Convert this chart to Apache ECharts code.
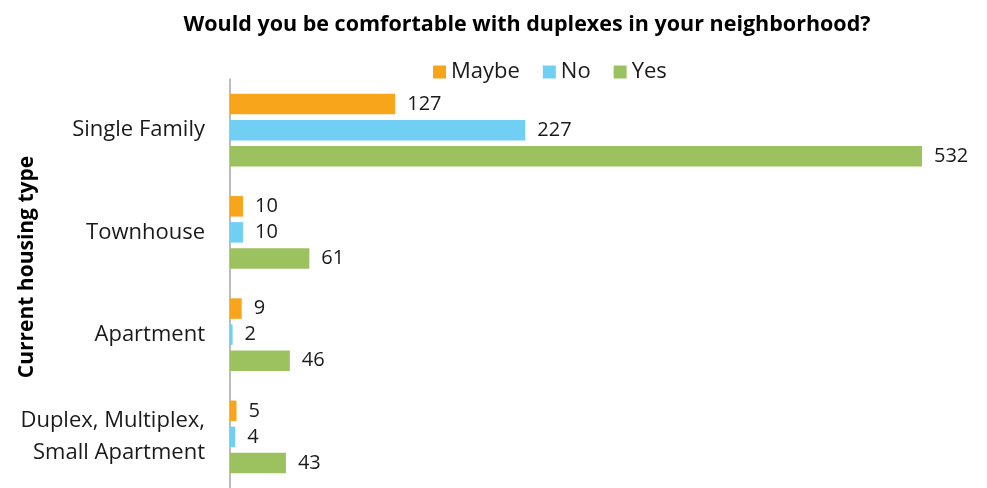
<!DOCTYPE html>
<html>
<head>
<meta charset="utf-8">
<script src="https://cdn.jsdelivr.net/npm/echarts@6/dist/echarts.min.js"></script>
<style>html,body{margin:0;padding:0;background:#fff}#c{width:987px;height:488px}</style>
</head>
<body>
<div id="c"></div>
<script>
const categories = ['Single Family', 'Townhouse', 'Apartment', 'Duplex, Multiplex,\nSmall Apartment'];
const maybeValues = [127, 10, 9, 5];
const noValues = [227, 10, 2, 4];
const yesValues = [532, 61, 46, 43];
const seriesNames = ['Maybe', 'No', 'Yes'];
const colors = ['#F8A51C', '#72CFF4', '#9BC25F'];

const FONT = 'Open Sans';
const chart = echarts.init(document.getElementById('c'));
const mk = (name, data, color) => ({
  name, type: 'bar', data,
  barWidth: 20.5, barGap: '27%',
  itemStyle: { color },
  label: { show: true, position: 'right', distance: 12, color: '#1a1a1a', fontSize: 20, fontFamily: FONT },
  animation: false
});
chart.setOption({
  animation: false,
  textStyle: { fontFamily: FONT },
  title: {
    text: 'Would you be comfortable with duplexes in your neighborhood?',
    left: 522, top: 9, textAlign: 'center',
    textStyle: { fontSize: 21.5, fontWeight: 'bold', color: '#000', fontFamily: FONT }
  },
  legend: {
    data: seriesNames, top: 56, left: 428,
    itemWidth: 13, itemHeight: 13, itemGap: 23, icon: 'rect',
    textStyle: { fontSize: 22, color: '#1a1a1a', fontFamily: FONT }
  },
  graphic: [{
    type: 'text', x: 27, y: 267, rotation: Math.PI / 2,
    style: { text: 'Current housing type', fontSize: 21, fontWeight: 'bold', fill: '#000', fontFamily: FONT, align: 'center', verticalAlign: 'middle' }
  }],
  grid: { left: 230, right: 65, top: 79, height: 417, containLabel: false },
  xAxis: { type: 'value', min: 0, max: 532, show: false },
  yAxis: {
    type: 'category', data: categories, inverse: true,
    axisLine: { show: true, lineStyle: { color: '#A6A6A6', width: 1.5 } },
    axisTick: { show: false },
    axisLabel: { fontSize: 22, color: '#1a1a1a', margin: 25, fontFamily: FONT, lineHeight: 32, align: 'right' }
  },
  series: [mk('Maybe', maybeValues, colors[0]), mk('No', noValues, colors[1]), mk('Yes', yesValues, colors[2])]
});
</script>
</body>
</html>
